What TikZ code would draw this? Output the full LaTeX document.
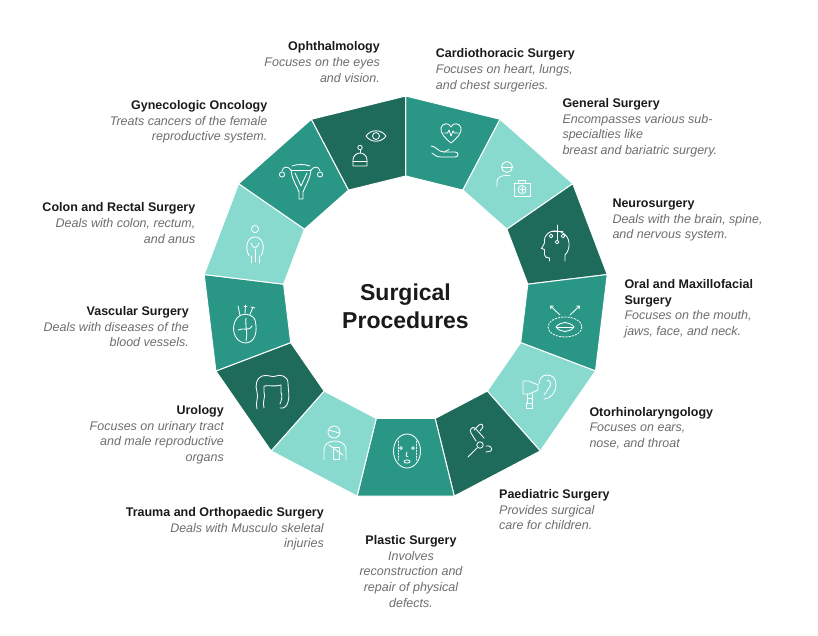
\documentclass[tikz,border=0pt]{standalone}
\usepackage{fontspec}
\setmainfont{Liberation Sans}
\usetikzlibrary{arrows.meta}
\definecolor{segD}{HTML}{1E6B5C}
\definecolor{segM}{HTML}{2A9685}
\definecolor{segL}{HTML}{88DACE}
\definecolor{ttl}{HTML}{1A1A1A}
\definecolor{dsc}{HTML}{6E6E6E}
\newcommand{\dline}[1]{{\color{dsc}\itshape #1}}
\tikzset{
  seg/.style={draw=white, line width=1pt, line join=round},
  ico/.style={draw=white, line width=0.85pt, line cap=round, line join=round},
  lbl/.style={inner sep=0pt, font=\fontsize{12.5}{15.6}\selectfont, text=ttl},
  lblR/.style={lbl, anchor=north east, align=right},
  lblL/.style={lbl, anchor=north west, align=left},
  lblC/.style={lbl, anchor=north, align=center},
}
\begin{document}
\begin{tikzpicture}[x=1pt,y=-1pt]
\useasboundingbox[fill=white] (0,0) rectangle (818,635);

% ring segments
\begin{scope}[shift={(405.7,299)}]
\foreach \c [count=\k from 0] in {segM,segL,segD,segM,segL,segD,segM,segL,segD,segM,segL,segM,segD}{
  \pgfmathsetmacro\aa{-90+\k*360/13}
  \pgfmathsetmacro\ab{-90+(\k+1)*360/13}
  \filldraw[fill=\c, seg] (\aa:203) -- (\ab:203) -- (\ab:123) -- (\aa:123) -- cycle;
}
\end{scope}

% centre title
\node[font=\fontsize{23}{28}\selectfont\bfseries, text=ttl, align=center] (title) at (405.5,306) {Surgical\\Procedures};

% labels
\node[lblR] (oph) at (380,41.6) {\textbf{Ophthalmology}\\\dline{Focuses on the eyes}\\\dline{and vision.}};
\node[lblL] (car) at (435.7,48.6) {\textbf{Cardiothoracic Surgery}\\\dline{Focuses on heart, lungs,}\\\dline{and chest surgeries.}};
\node[lblL] (gen) at (562.3,98.2) {\textbf{General Surgery}\\\dline{Encompasses various sub-}\\\dline{specialties like}\\\dline{breast and bariatric surgery.}};
\node[lblL] (neu) at (612.3,198.8) {\textbf{Neurosurgery}\\\dline{Deals with the brain, spine,}\\\dline{and nervous system.}};
\node[lblL] (ora) at (624.3,279.4) {\textbf{Oral and Maxillofacial}\\\textbf{Surgery}\\\dline{Focuses on the mouth,}\\\dline{jaws, face, and neck.}};
\node[lblL] (ent) at (589.3,407.1) {\textbf{Otorhinolaryngology}\\\dline{Focuses on ears,}\\\dline{nose, and throat}};
\node[lblL] (pae) at (499,489.4) {\textbf{Paediatric Surgery}\\\dline{Provides surgical}\\\dline{care for children.}};
\node[lblC] (pla) at (411,535.4) {\textbf{Plastic Surgery}\\\dline{Involves}\\\dline{reconstruction and}\\\dline{repair of physical}\\\dline{defects.}};
\node[lblR] (tra) at (324,507.4) {\textbf{Trauma and Orthopaedic Surgery}\\\dline{Deals with Musculo skeletal}\\\dline{injuries}};
\node[lblR] (uro) at (224,405.4) {\textbf{Urology}\\\dline{Focuses on urinary tract}\\\dline{and male reproductive}\\\dline{organs}};
\node[lblR] (vas) at (189,306.4) {\textbf{Vascular Surgery}\\\dline{Deals with diseases of the}\\\dline{blood vessels.}};
\node[lblR] (col) at (195.5,202.6) {\textbf{Colon and Rectal Surgery}\\\dline{Deals with colon, rectum,}\\\dline{and anus}};
\node[lblR] (gyn) at (267.5,100.2) {\textbf{Gynecologic Oncology}\\\dline{Treats cancers of the female}\\\dline{reproductive system.}};

% ---------- icons ----------
% ophthalmology: eye + robot
\draw[ico] (366,136) .. controls (371,129) and (381,129) .. (386,136) .. controls (381,143) and (371,143) .. (366,136);
\draw[ico] (376,136) circle[radius=3.5];
\draw[ico] (353,160) arc[start angle=180,end angle=360,radius=7] -- (367,166) -- (353,166) -- cycle;
\draw[ico] (353,161.5) -- (367,161.5);
\draw[ico] (360,153) -- (360,150);
\draw[ico] (360,147.5) circle[radius=2.2];

% cardiothoracic: heart + hand
\draw[ico] (451,143) .. controls (445,138) and (440,133) .. (441,128) .. controls (442,123) and (449,122) .. (451,127) .. controls (453,122) and (460,123) .. (461,128) .. controls (462,133) and (457,138) .. (451,143);
\draw[ico] (444,133) -- (447.5,133) -- (449,130) -- (451,136) -- (453,131) -- (454.5,133) -- (458,133);
\draw[ico] (431,146) .. controls (436,146) and (438,152) .. (444,152) -- (455,152) .. controls (459,152) and (459,157) .. (455,157) -- (441,157) .. controls (437,157) and (434,155) .. (432,153);
\draw[ico] (444,152) -- (449,149.5);

% general surgery: person + medkit
\draw[ico] (507,167) circle[radius=5.5];
\draw[ico] (501.5,167) -- (512.5,167);
\draw[ico] (497,187) -- (497,182) .. controls (497,177) and (501,175.5) .. (507,175.5) -- (510,175.5);
\draw[ico] (514,183) rectangle (530,196);
\draw[ico] (518.5,183) -- (518.5,180) -- (525.5,180) -- (525.5,183);
\draw[ico] (522,189.5) circle[radius=4];
\draw[ico] (522,187.2) -- (522,191.8) (519.7,189.5) -- (524.3,189.5);

% neurosurgery: head profile with instrument
\draw[ico] (565,261) -- (565,255) .. controls (571,249) and (571,236) .. (561,232) .. controls (551,228) and (543,235) .. (544.5,243) -- (541.5,248.5) -- (544.5,249.5) -- (544.5,254.5) .. controls (544.5,257) and (546.5,258) .. (549.5,258) -- (549.5,261);
\draw[ico] (557,225) -- (557,239.5);
\draw[ico] (551,231) -- (563,231);
\draw[ico] (551,236) circle[radius=1.9];
\draw[ico] (563,236) circle[radius=1.9];
\draw[ico] (557,242) circle[radius=1.9];

% oral & maxillofacial: lips, dashed outline, arrows
\draw[ico] (556,327) .. controls (561,321) and (569,321) .. (574,327) .. controls (569,333) and (561,333) .. (556,327);
\draw[ico] (557.5,327) -- (572.5,327);
\draw[ico, dash pattern=on 1.6pt off 1.6pt] (565,327) ellipse[x radius=17, y radius=10];
\draw[ico, -{Straight Barb[length=2.5pt,width=4pt]}] (560,315) -- (550,305.5);
\draw[ico, -{Straight Barb[length=2.5pt,width=4pt]}] (570,315) -- (580,305.5);

% otorhinolaryngology: ear + otoscope
\draw[ico] (544,399) .. controls (551,399) and (556,392) .. (556,385) .. controls (556,378) and (552,375) .. (547,375) .. controls (542,375) and (539,379) .. (539,384);
\draw[ico] (547,380) .. controls (551,380) and (552,386) .. (548,389) .. controls (546,391) and (546,394) .. (544,395);
\draw[ico] (523,381) -- (529,381) -- (538,385) -- (538,390) -- (529,394) -- (523,394) -- cycle;
\draw[ico] (527,394) -- (527,403) -- (532,403) -- (532,394);
\draw[ico] (527,398.5) -- (532,398.5);
\draw[ico] (526.5,403) -- (526.5,408) -- (532.5,408) -- (532.5,403);

% paediatric: hand with instrument
\draw[ico] (468,457) -- (477,448);
\draw[ico] (480,445) circle[radius=3.2];
\draw[ico] (476,441) -- (471,433) .. controls (469,430) and (472,426) .. (475,428) -- (484,438);
\draw[ico] (474,430) -- (479,425) .. controls (481,423) and (484,425) .. (483,427) -- (480,431);
\draw[ico] (486,446) .. controls (490,445) and (493,448) .. (491,451) -- (486,452);

% plastic surgery: face
\draw[ico] (407,451) ellipse[x radius=13.5, y radius=17];
\draw[ico] (401,448) circle[radius=1.4];
\draw[ico] (413,448) circle[radius=1.4];
\draw[ico] (407,452) -- (406,456) -- (408,456.5);
\draw[ico] (407,461.5) ellipse[x radius=3, y radius=1.6];
\draw[ico, dash pattern=on 1.5pt off 1.5pt] (398,441) -- (398,460) (416,441) -- (416,460);

% trauma & orthopaedic: person with cast
\draw[ico] (334,432) circle[radius=6];
\draw[ico] (328.5,430) -- (339.5,433);
\draw[ico] (324,460) -- (324,450) .. controls (324,444) and (329,441) .. (335,441) .. controls (341,441) and (346,444) .. (346,450) -- (346,460);
\draw[ico] (333,459) -- (333,447) -- (339,447) -- (339,459) -- cycle;
\draw[ico] (329,445) -- (343,455);

% urology: intestine
\draw[ico] (257,409) .. controls (255,402) and (259,398) .. (257,392) .. controls (255,386) and (256,378) .. (262,376) .. controls (268,374) and (272,378) .. (276,376) .. controls (280,374) and (288,376) .. (288,383) .. controls (288,390) and (290,396) .. (288,402) .. controls (287,406) and (284,409) .. (280,408);
\draw[ico] (264,408) .. controls (262,401) and (266,397) .. (264,392) -- (264,386) .. controls (270,385) and (274,387) .. (281,385) -- (281,392) .. controls (283,397) and (281,401) .. (280,404);

% vascular: anatomical heart
\draw[ico] (237,318) .. controls (230,327) and (234,342) .. (245,343) .. controls (255,343) and (258,332) .. (255,320) .. controls (253,314) and (242,312) .. (237,318);
\draw[ico] (240,315) -- (238,306);
\draw[ico] (245,313.5) -- (245.5,305) (244,306.5) -- (247,306.5);
\draw[ico] (250,314.5) -- (253,307) (251,307) -- (255,308);
\draw[ico] (238,330) .. controls (244,327) and (248,332) .. (252,326);
\draw[ico] (246,318) .. controls (245,326) and (248,334) .. (246,341);

% colon & rectal: figure
\draw[ico] (255,229) circle[radius=3.6];
\draw[ico] (249,256) .. controls (244,246) and (248,237) .. (255,237) .. controls (262,237) and (266,246) .. (261,256);
\draw[ico] (251,243) .. controls (252,249) and (258,249) .. (259,243);
\draw[ico] (251,256) -- (251,263) (259,256) -- (259,263);
\draw[ico] (255,249) -- (255,262);

% gynecologic oncology: uterus
\draw[ico] (291,170) -- (311,170);
\draw[ico] (291,170) .. controls (292,180) and (297,186) .. (299,192) -- (299,199) -- (303,199) -- (303,192) .. controls (305,186) and (310,180) .. (311,170);
\draw[ico] (295,173) -- (301,186) -- (307,173);
\draw[ico] (291,170) .. controls (288,166) and (283,166) .. (282,171);
\draw[ico] (311,170) .. controls (314,166) and (319,166) .. (320,171);
\draw[ico] (282,174.5) circle[radius=2.6];
\draw[ico] (320,174.5) circle[radius=2.6];
\draw[ico] (292,166) .. controls (297,164) and (305,164) .. (310,166);
\end{tikzpicture}
\end{document}
